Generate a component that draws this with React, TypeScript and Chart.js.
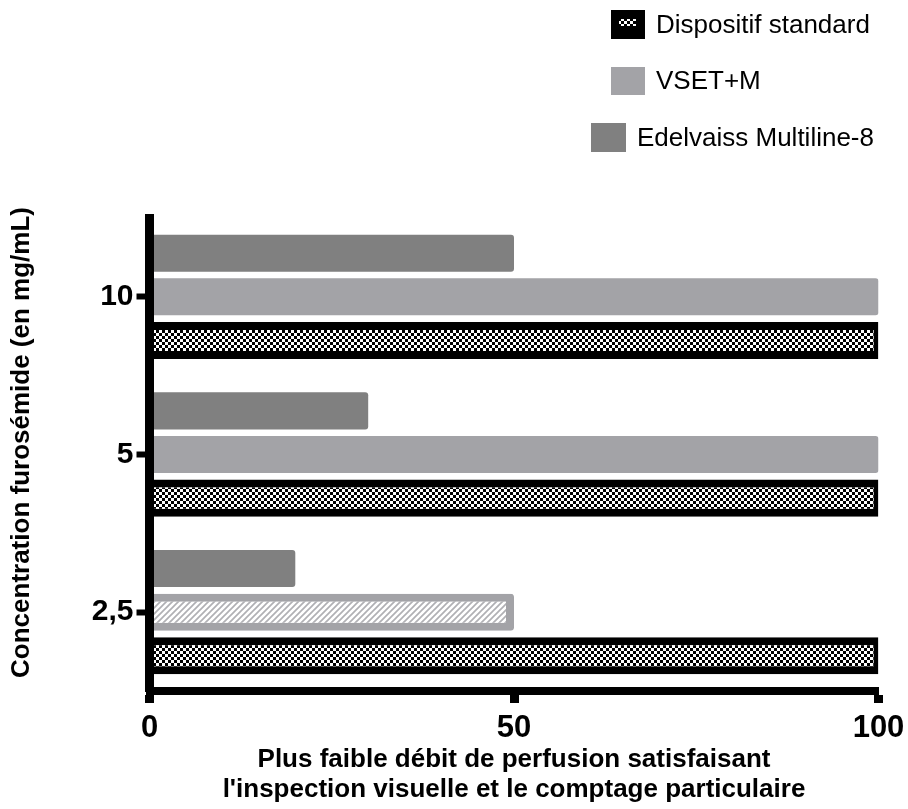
import React, { useEffect, useRef } from 'react';
import { Chart, registerables } from 'chart.js';

Chart.register(...registerables);

const categories = ['10', '5', '2,5'];
const seriesNames = ['Edelvaiss Multiline-8', 'VSET+M', 'Dispositif standard'];
const edelvaissValues = [50, 30, 20];
const vsetValues = [100, 100, 50];
const standardValues = [100, 100, 100];
const xTickValues = [0, 50, 100];
const xTitleLines = ['Plus faible débit de perfusion satisfaisant', "l'inspection visuelle et le comptage particulaire"];
const yTitle = 'Concentration furosémide (en mg/mL)';

const FONT = "'Liberation Sans', Arial, Helvetica, sans-serif";
const DARK_GRAY = '#808080';
const LIGHT_GRAY = '#a3a3a7';

function makeChecker(): CanvasPattern {
  const c = document.createElement('canvas');
  c.width = 6;
  c.height = 6;
  const g = c.getContext('2d')!;
  g.fillStyle = '#ffffff';
  g.fillRect(0, 0, 6, 6);
  g.fillStyle = '#000000';
  g.fillRect(0, 0, 3, 3);
  g.fillRect(3, 3, 3, 3);
  return g.createPattern(c, 'repeat')!;
}

function makeHatch(): CanvasPattern {
  const c = document.createElement('canvas');
  c.width = 6;
  c.height = 6;
  const g = c.getContext('2d')!;
  g.fillStyle = '#ffffff';
  g.fillRect(0, 0, 6, 6);
  g.strokeStyle = '#b0b0b4';
  g.lineWidth = 1.7;
  g.beginPath();
  g.moveTo(-1, 7);
  g.lineTo(7, -1);
  g.moveTo(-3, 3);
  g.lineTo(3, -3);
  g.moveTo(3, 9);
  g.lineTo(9, 3);
  g.stroke();
  return g.createPattern(c, 'repeat')!;
}

export default function App() {
  const ref = useRef<HTMLCanvasElement | null>(null);

  useEffect(() => {
    if (!ref.current) return;
    const checker = makeChecker();
    const hatch = makeHatch();

    const legendPlugin = {
      id: 'customLegend',
      afterDraw(chart: any) {
        const ctx = chart.ctx as CanvasRenderingContext2D;
        const items = [
          { ds: 2, bx: 611, by: 10, bw: 34, bh: 29, tx: 656 },
          { ds: 1, bx: 611, by: 67, bw: 34, bh: 28, tx: 656 },
          { ds: 0, bx: 591, by: 123, bw: 35, bh: 29, tx: 637 },
        ];
        ctx.save();
        items.forEach((it) => {
          const ds = chart.data.datasets[it.ds];
          if (it.ds === 2) {
            ctx.fillStyle = '#000';
            ctx.fillRect(it.bx, it.by, it.bw, it.bh);
            ctx.fillStyle = checker;
            ctx.fillRect(it.bx + 8, it.by + 9, 17, 7);
          } else {
            ctx.fillStyle = it.ds === 1 ? LIGHT_GRAY : DARK_GRAY;
            ctx.fillRect(it.bx, it.by, it.bw, it.bh);
          }
          ctx.fillStyle = '#000';
          ctx.font = `26px ${FONT}`;
          ctx.textAlign = 'left';
          ctx.textBaseline = 'middle';
          ctx.fillText(ds.label, it.tx, it.by + it.bh / 2 + 1);
        });
        ctx.restore();
      },
    };

    const yTitlePlugin = {
      id: 'yTitle',
      afterDraw(chart: any) {
        const ctx = chart.ctx as CanvasRenderingContext2D;
        const area = chart.chartArea;
        ctx.save();
        ctx.translate(22, (area.top + area.bottom) / 2 - 12);
        ctx.rotate(-Math.PI / 2);
        ctx.fillStyle = '#000';
        ctx.font = `bold 26px ${FONT}`;
        ctx.textAlign = 'center';
        ctx.textBaseline = 'middle';
        ctx.fillText(yTitle, 0, 0);
        ctx.restore();
      },
    };

    const chart = new Chart(ref.current, {
      type: 'bar',
      data: {
        labels: categories,
        datasets: [
          {
            label: seriesNames[0],
            data: edelvaissValues,
            backgroundColor: DARK_GRAY,
            borderWidth: 0,
            borderRadius: 3,
            borderSkipped: 'start',
          },
          {
            label: seriesNames[1],
            data: vsetValues,
            backgroundColor: [LIGHT_GRAY, LIGHT_GRAY, hatch as any],
            borderColor: LIGHT_GRAY,
            borderWidth: [0, 0, 8],
            borderRadius: 3,
            borderSkipped: 'start',
          },
          {
            label: seriesNames[2],
            data: standardValues,
            backgroundColor: checker as any,
            borderColor: '#000000',
            borderWidth: { top: 8, bottom: 8, right: 5, left: 0 },
            borderSkipped: 'start',
          },
        ],
      },
      options: {
        indexAxis: 'y',
        responsive: false,
        animation: false,
        layout: { padding: { top: 218, right: 29.5, bottom: 0, left: 0 } },
        plugins: { legend: { display: false }, tooltip: { enabled: false } },
        datasets: { bar: { barPercentage: 0.85, categoryPercentage: 0.83 } },
        scales: {
          x: {
            type: 'linear',
            position: 'bottom',
            min: 0,
            max: 100,
            afterBuildTicks: (s: any) => {
              s.ticks = xTickValues.map((v) => ({ value: v }));
            },
            afterFit: (s: any) => {
              s.height = 118;
              s.paddingLeft = 0;
              s.paddingRight = 0;
            },
            grid: {
              drawOnChartArea: false,
              drawTicks: true,
              tickLength: 12,
              tickWidth: 9,
              tickColor: '#000',
            },
            border: { display: true, width: 8, color: '#000', z: 1 },
            ticks: {
              color: '#000',
              font: { family: FONT, size: 31, weight: 'bold' },
              padding: 7,
              maxRotation: 0,
            },
            title: {
              display: true,
              text: xTitleLines,
              color: '#000',
              font: { family: FONT, size: 26, weight: 'bold', lineHeight: 1.15 },
              padding: { top: 4, bottom: 4 },
            },
          },
          y: {
            type: 'category',
            position: 'left',
            offset: true,
            afterFit: (s: any) => {
              s.width = 149.5;
            },
            grid: {
              offset: false,
              drawOnChartArea: false,
              drawTicks: true,
              tickLength: 13,
              tickWidth: 6,
              tickColor: '#000',
            },
            border: { display: true, width: 9, color: '#000', z: 1 },
            ticks: {
              color: '#000',
              font: { family: FONT, size: 30, weight: 'bold' },
              padding: 3,
            },
            title: { display: false },
          },
        },
      } as any,
      plugins: [legendPlugin, yTitlePlugin],
    });

    return () => chart.destroy();
  }, []);

  return (
    <div style={{ position: 'absolute', left: 0, top: 0, width: 908, height: 809, background: '#fff' }}>
      <canvas ref={ref} width={908} height={809} style={{ display: 'block' }} />
    </div>
  );
}
